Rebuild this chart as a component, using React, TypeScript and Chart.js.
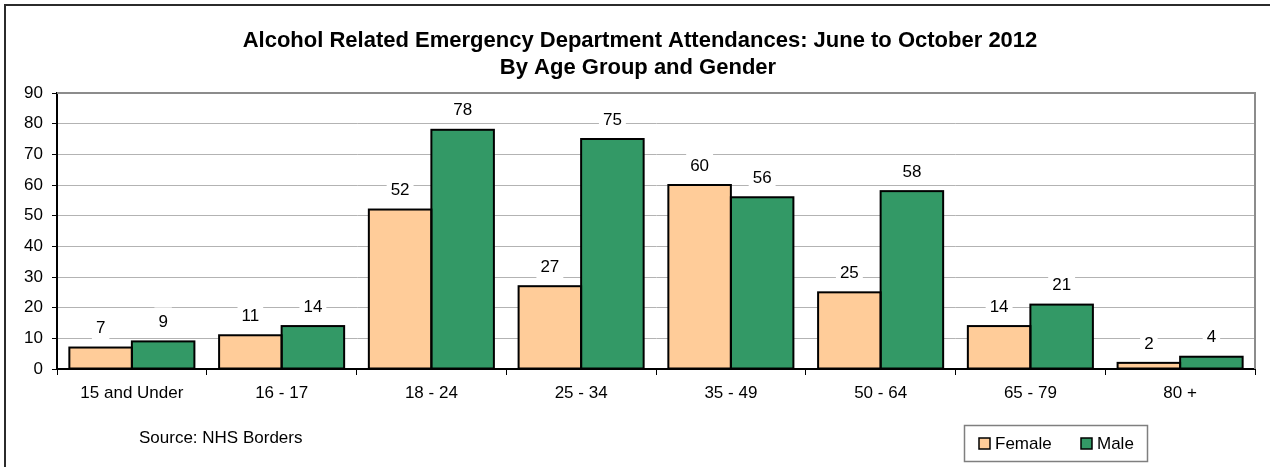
import React, { useEffect, useRef } from "react";
import { Chart, registerables } from "chart.js";

Chart.register(...registerables);

const ageGroups = ["15 and Under", "16 - 17", "18 - 24", "25 - 34", "35 - 49", "50 - 64", "65 - 79", "80 +"];
const femaleCounts = [7, 11, 52, 27, 60, 25, 14, 2];
const maleCounts = [9, 14, 78, 75, 56, 58, 21, 4];
const titleLines = [
  "Alcohol Related Emergency Department Attendances: June to October 2012",
  "By Age Group and Gender",
];
const sourceNote = "Source: NHS Borders";
const seriesNames = ["Female", "Male"];

const FONT = "'Liberation Sans', Arial, sans-serif";
const FEMALE_COLOR = "#FFCC99";
const MALE_COLOR = "#339966";

// Frame, title, plot border, bar outlines, value labels, source note and legend
const decorations = {
  id: "decorations",
  beforeDraw(chart: any) {
    const ctx = chart.ctx;
    ctx.save();
    ctx.fillStyle = "#ffffff";
    ctx.fillRect(0, 0, chart.width, chart.height);
    ctx.strokeStyle = "#2b2b2b";
    ctx.lineWidth = 2;
    ctx.beginPath();
    ctx.moveTo(5, chart.height + 5);
    ctx.lineTo(5, 5);
    ctx.lineTo(chart.width + 5, 5);
    ctx.stroke();
    ctx.restore();
  },
  beforeDatasetsDraw(chart: any) {
    const { ctx, chartArea } = chart;
    ctx.save();
    ctx.strokeStyle = "#8c8c8c";
    ctx.lineWidth = 2;
    ctx.beginPath();
    ctx.moveTo(chartArea.left, chartArea.top);
    ctx.lineTo(chartArea.right, chartArea.top);
    ctx.lineTo(chartArea.right, chartArea.bottom);
    ctx.stroke();
    ctx.restore();
  },
  afterDatasetsDraw(chart: any) {
    const ctx = chart.ctx;
    ctx.save();

    // outlines centred on the bar edges, so neighbouring bars share one line
    ctx.strokeStyle = "#000000";
    ctx.lineWidth = 2;
    chart.data.datasets.forEach((_ds: any, di: number) => {
      const meta = chart.getDatasetMeta(di);
      meta.data.forEach((bar: any) => {
        const w = bar.width;
        ctx.strokeRect(bar.x - w / 2, bar.y, w, bar.base - bar.y);
      });
    });

    ctx.font = `17px ${FONT}`;
    ctx.textAlign = "center";
    ctx.textBaseline = "middle";
    chart.data.datasets.forEach((ds: any, di: number) => {
      const meta = chart.getDatasetMeta(di);
      meta.data.forEach((bar: any, i: number) => {
        const text = String(ds.data[i]);
        const cy = bar.y - 20;
        const w = ctx.measureText(text).width + 8;
        ctx.fillStyle = "#ffffff";
        ctx.fillRect(bar.x - w / 2, cy - 14, w, 26);
        ctx.fillStyle = "#000000";
        ctx.fillText(text, bar.x, cy + 1);
      });
    });

    // title
    ctx.font = `bold 22px ${FONT}`;
    ctx.fillText(titleLines[0], 640, 41);
    ctx.fillText(titleLines[1], 638, 68);

    // source note
    ctx.font = `17px ${FONT}`;
    ctx.textAlign = "left";
    ctx.fillText(sourceNote, 139, 438);

    // legend
    ctx.strokeStyle = "#7f7f7f";
    ctx.lineWidth = 1.5;
    ctx.strokeRect(964.5, 425.5, 183, 36);
    const items = [
      { x: 979, color: FEMALE_COLOR, label: seriesNames[0] },
      { x: 1081, color: MALE_COLOR, label: seriesNames[1] },
    ];
    ctx.font = `17px ${FONT}`;
    items.forEach((it) => {
      ctx.fillStyle = it.color;
      ctx.fillRect(it.x, 438, 11, 11);
      ctx.strokeStyle = "#000000";
      ctx.lineWidth = 1.5;
      ctx.strokeRect(it.x, 438, 11, 11);
      ctx.fillStyle = "#000000";
      ctx.fillText(it.label, it.x + 16, 444);
    });
    ctx.restore();
  },
};

export default function App() {
  const canvasRef = useRef<HTMLCanvasElement | null>(null);

  useEffect(() => {
    document.body.style.margin = "0";
    const canvas = canvasRef.current;
    if (!canvas) return;
    const chart = new Chart(canvas, {
      type: "bar",
      data: {
        labels: ageGroups,
        datasets: [
          {
            label: seriesNames[0],
            data: femaleCounts,
            backgroundColor: FEMALE_COLOR,
            borderWidth: 0,
            categoryPercentage: 0.835,
            barPercentage: 1,
          },
          {
            label: seriesNames[1],
            data: maleCounts,
            backgroundColor: MALE_COLOR,
            borderWidth: 0,
            categoryPercentage: 0.835,
            barPercentage: 1,
          },
        ],
      },
      options: {
        responsive: false,
        animation: false,
        devicePixelRatio: 1,
        layout: { padding: { top: 93, right: 15, left: 0, bottom: 0 } },
        plugins: {
          legend: { display: false },
          title: { display: false },
          tooltip: { enabled: false },
        },
        scales: {
          x: {
            afterFit: (scale: any) => {
              scale.height = 98;
            },
            grid: {
              display: true,
              drawOnChartArea: false,
              offset: true,
              tickLength: 6,
              tickColor: "#000000",
              tickWidth: 1,
            },
            border: { color: "#000000", width: 2 },
            ticks: {
              color: "#000000",
              font: { family: FONT, size: 17 },
              padding: 8,
              maxRotation: 0,
              autoSkip: false,
            },
          },
          y: {
            min: 0,
            max: 90,
            afterFit: (scale: any) => {
              scale.width = 57;
            },
            grid: {
              color: "#b3b3b3",
              lineWidth: 1,
              tickLength: 5,
              tickColor: "#000000",
            },
            border: { color: "#000000", width: 2 },
            ticks: {
              stepSize: 10,
              color: "#000000",
              font: { family: FONT, size: 17 },
              padding: 9,
            },
          },
        },
      },
      plugins: [decorations],
    });
    return () => chart.destroy();
  }, []);

  return (
    <div style={{ width: 1270, height: 467, position: "relative" }}>
      <canvas ref={canvasRef} width={1270} height={467} style={{ display: "block" }} />
    </div>
  );
}
